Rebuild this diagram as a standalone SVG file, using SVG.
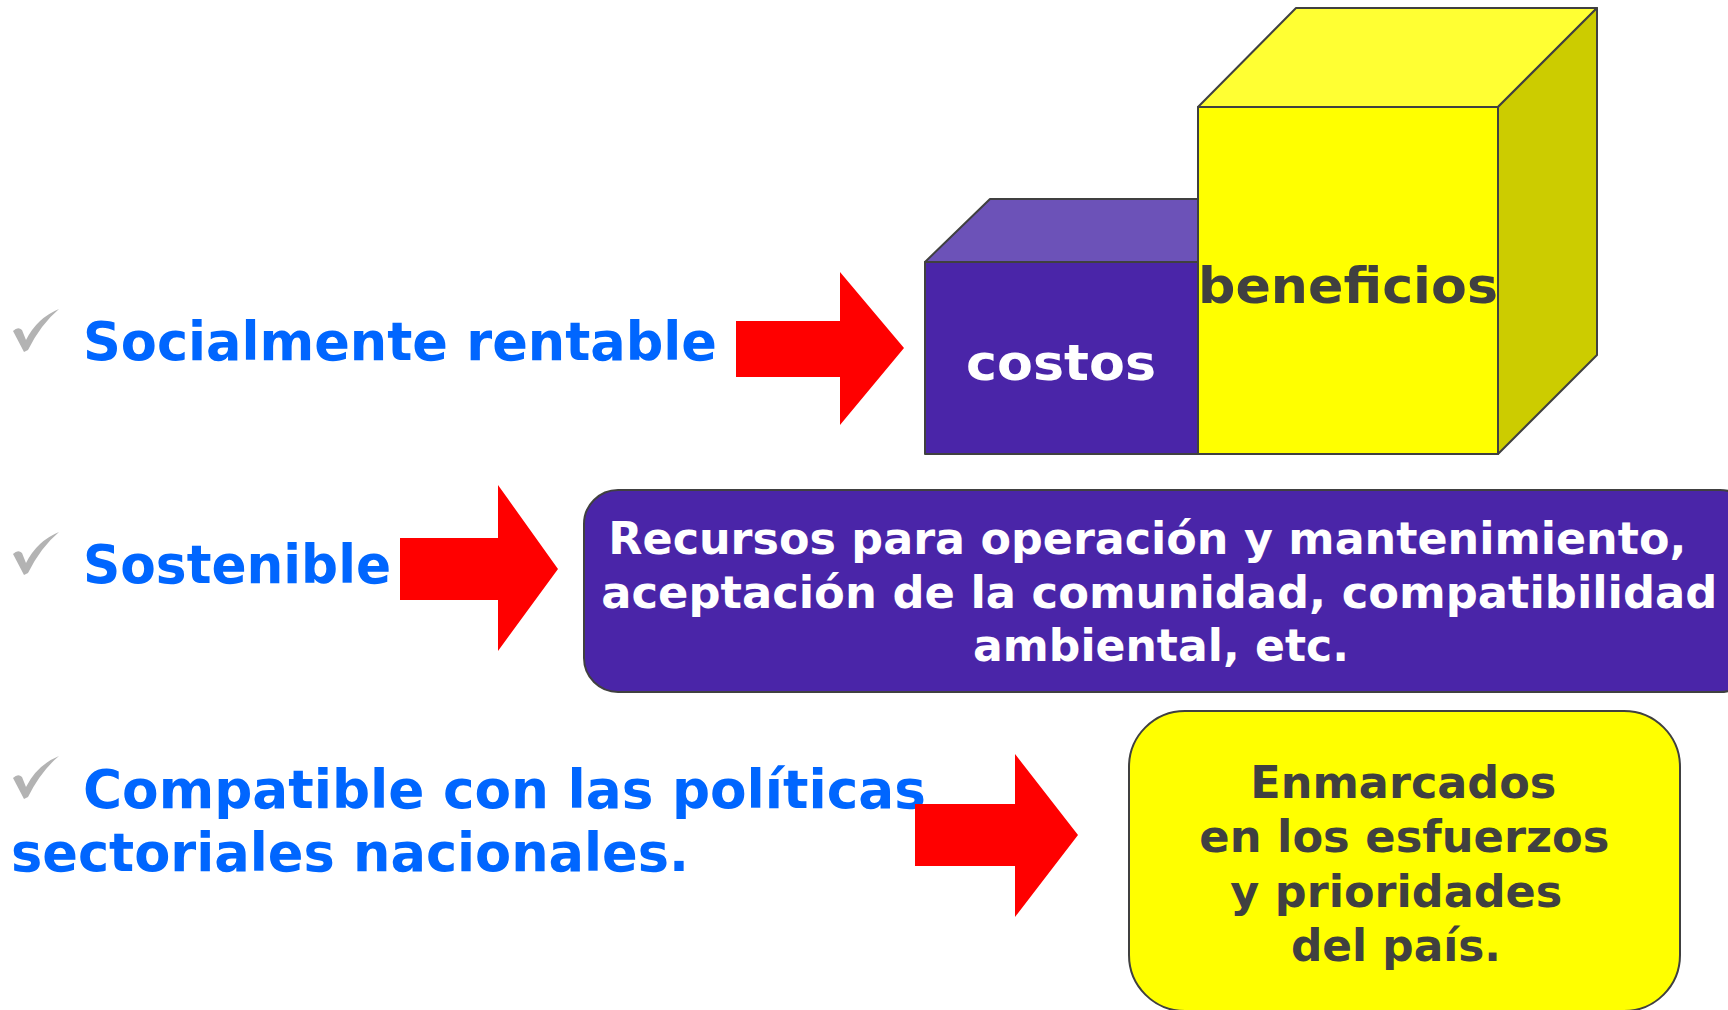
<svg xmlns="http://www.w3.org/2000/svg" width="1728" height="1010" viewBox="0 0 1728 1010">
<style>
.lbl{font-family:"DejaVu Sans",Verdana,sans-serif;font-weight:bold;fill:#0066ff;font-size:53px}
.w{font-family:"DejaVu Sans",Verdana,sans-serif;font-weight:bold;fill:#ffffff}
.g{font-family:"DejaVu Sans",Verdana,sans-serif;font-weight:bold;fill:#404040}
.edge{stroke:#404040;stroke-width:2;stroke-linejoin:round}
.arrow{fill:#ff0000}
.chk{fill:#b3b3b3}
</style>
<defs>
<path id="check" d="M0,19 Q5,14 9,18 L13,28 Q24,6 46,-3 Q28,12 15,38 L11,40 Z"/>
</defs>
<rect width="1728" height="1010" fill="#ffffff"/>

<g id="labels">
<use href="#check" class="chk" x="13" y="312"/>
<text class="lbl" x="83" y="360" textLength="634" lengthAdjust="spacingAndGlyphs">Socialmente rentable</text>
<use href="#check" class="chk" x="13" y="535"/>
<text class="lbl" x="83" y="583" textLength="308" lengthAdjust="spacingAndGlyphs">Sostenible</text>
<use href="#check" class="chk" x="13" y="759"/>
<text class="lbl" x="83" y="808" textLength="843" lengthAdjust="spacingAndGlyphs">Compatible con las políticas</text>
<text class="lbl" x="11" y="871" textLength="678" lengthAdjust="spacingAndGlyphs">sectoriales nacionales.</text>
</g>

<g id="connectors">
<polygon class="arrow" points="736,321 840,321 840,272 904,348 840,425 840,377 736,377"/>
<polygon class="arrow" points="400,538 498,538 498,485 558,569 498,651 498,600 400,600"/>
<polygon class="arrow" points="915,804 1015,804 1015,754 1078,835 1015,917 1015,866 915,866"/>
</g>

<g id="costos">
<polygon class="edge" fill="#6c52b8" points="925,262 990,199 1198,199 1198,262"/>
<rect class="edge" x="925" y="262" width="273" height="192" fill="#4a25a8"/>
<text class="w" x="1061" y="380" font-size="50" text-anchor="middle" textLength="190" lengthAdjust="spacingAndGlyphs">costos</text>
</g>

<g id="beneficios">
<polygon class="edge" fill="#ffff33" points="1198,107 1296,8 1597,8 1498,107"/>
<polygon class="edge" fill="#cccc00" points="1498,107 1597,8 1597,355 1498,454"/>
<rect class="edge" x="1198" y="107" width="300" height="347" fill="#ffff00"/>
<text class="g" x="1348" y="303" font-size="50" text-anchor="middle" textLength="300" lengthAdjust="spacingAndGlyphs">beneficios</text>
</g>

<g id="sostenible-box">
<rect class="edge" x="584" y="490" width="1170" height="202" rx="34" fill="#4a25a8"/>
<text class="w" font-size="44" text-anchor="middle">
<tspan x="1155" y="554" textLength="1078" lengthAdjust="spacingAndGlyphs">Recursos para operación y mantenimiento,</tspan>
<tspan x="1167" y="608" textLength="1116" lengthAdjust="spacingAndGlyphs">aceptación de la comunidad, compatibilidad</tspan>
<tspan x="1161" y="661" textLength="376" lengthAdjust="spacingAndGlyphs">ambiental, etc.</tspan>
</text>
</g>

<g id="politicas-box">
<rect class="edge" x="1129" y="711" width="551" height="300" rx="56" fill="#ffff00"/>
<text class="g" font-size="44" text-anchor="middle">
<tspan x="1411" y="798" textLength="306" lengthAdjust="spacingAndGlyphs">Enmarcados</tspan>
<tspan x="1412" y="852" textLength="410" lengthAdjust="spacingAndGlyphs">en los esfuerzos</tspan>
<tspan x="1404" y="907" textLength="332" lengthAdjust="spacingAndGlyphs">y prioridades</tspan>
<tspan x="1396" y="961" textLength="210" lengthAdjust="spacingAndGlyphs">del país.</tspan>
</text>
</g>
</svg>
